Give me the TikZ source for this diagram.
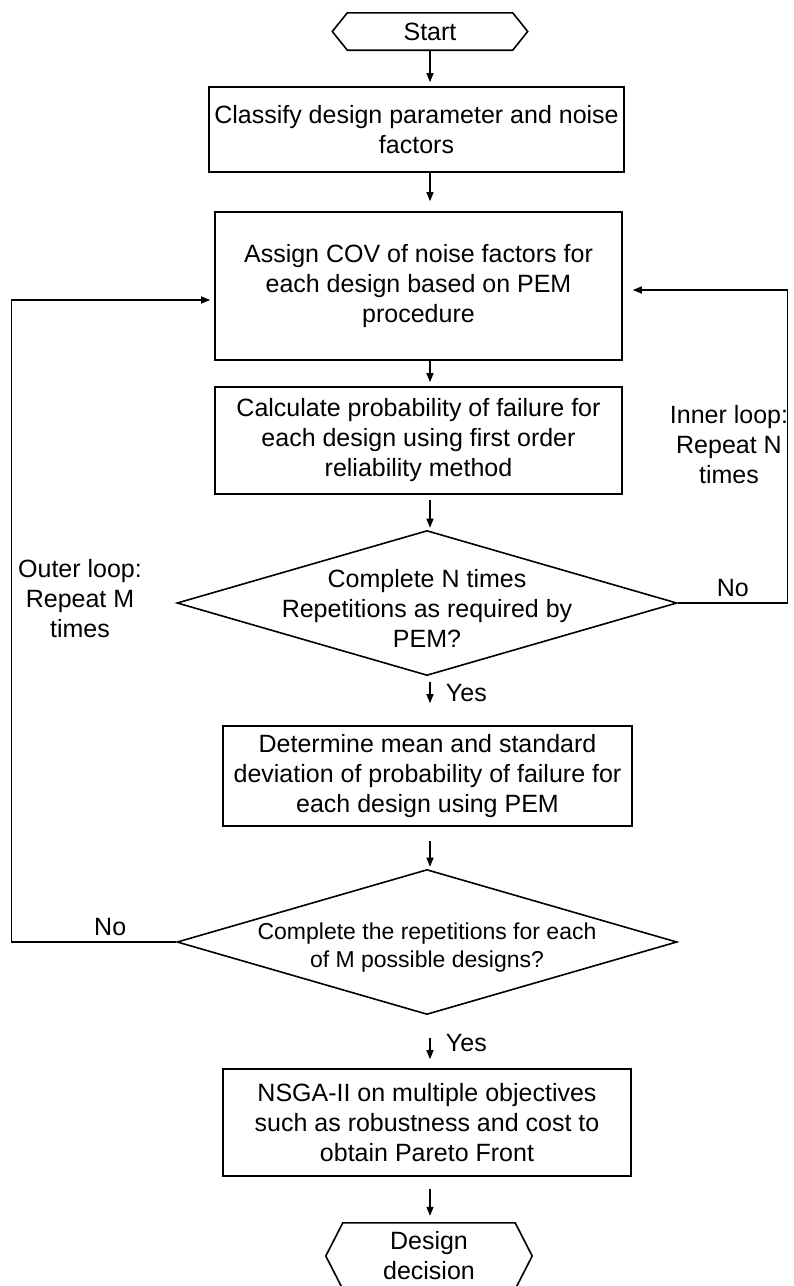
\documentclass[tikz,border=0pt]{standalone}
\usepackage{fontspec}
\setmainfont{Liberation Sans}
\usetikzlibrary{shapes.geometric,arrows.meta,calc}

\tikzset{
  process/.style={draw, line width=1.6pt, align=center, inner sep=0pt},
  decision/.style={diamond, draw, line width=1.6pt, inner sep=0pt,
    minimum width=500pt, minimum height=145pt},
  terminal/.style={align=center, inner sep=0pt},
  flow/.style={-{Triangle[length=9pt,width=7pt]}, line width=1.3pt, shorten >=4pt},
}

% hexagon outline round a terminal node
\newcommand{\hexframe}[2]{%
  \draw[line width=1.6pt] (#1.north west) -- (#1.north east) -- ($(#1.east)+(#2,0)$)
    -- (#1.south east) -- (#1.south west) -- ($(#1.west)+(-#2,0)$) -- cycle;}

\begin{document}
\begin{tikzpicture}[x=1pt,y=-1pt,font=\fontsize{25}{30}\selectfont]
  \useasboundingbox (0,0) rectangle (794,1286);

  % Terminals
  \node[terminal, minimum width=165pt, minimum height=37pt] (start) at (430,31.5) {Start};
  \node[terminal, minimum width=172pt, minimum height=66pt] (stop) at (429,1256) {Design\\decision};
  \hexframe{start}{15}
  \hexframe{stop}{17}

  % Process boxes
  \node[process, minimum width=415pt, minimum height=85pt] (classify) at (416.5,129.5)
    {Classify design parameter and noise\\factors};
  \node[process, minimum width=407pt, minimum height=148pt] (assign) at (418.5,286)
    {Assign COV of noise factors for\\each design based on PEM\\procedure};
  \node[process, minimum width=407pt, minimum height=107pt] (form) at (418.5,440.5)
    {Calculate probability of failure for\\each design using first order\\reliability method};
  \node[process, minimum width=409pt, minimum height=100pt] (stats) at (427.5,776)
    {Determine mean and standard\\deviation of probability of failure for\\each design using PEM};
  \node[process, minimum width=408pt, minimum height=107pt] (nsga) at (427,1122.5)
    {NSGA-II on multiple objectives\\such as robustness and cost to\\obtain Pareto Front};

  % Decisions
  \node[decision] (innerq) at (427,603) {};
  \node[align=center] (innerqtext) at ($(innerq)+(0,5)$) {Complete N times\\Repetitions as required by\\PEM?};
  \node[decision] (outerq) at (427,942) {};
  \node[align=center, font=\fontsize{23}{28}\selectfont] (outerqtext) at ($(outerq)+(0,6)$)
    {Complete the repetitions for each\\of M possible designs?};

  % Loop notes
  \node[align=center] (innernote) at (729,445) {Inner loop:\\Repeat N\\times};
  \node[align=center] (outernote) at (80,599) {Outer loop:\\Repeat M\\times};

  % Main flow
  \draw[flow] (start.south) -- (start.south |- classify.north);
  \draw[flow, shorten >=10pt] (classify.south -| start) -- (assign.north -| start);
  \draw[flow] (assign.south -| start) -- (form.north -| start);
  \draw[flow, shorten <=5pt, shorten >=2pt] (form.south -| start) -- (innerq.north -| start);
  \draw[flow, shorten <=6pt, shorten >=22pt] (innerq.south -| start) -- (stats.north -| start)
    node[pos=0.35, right=12pt] (yes1) {Yes};
  \draw[flow, shorten <=14pt, shorten >=2pt] (stats.south -| start) -- (outerq.north -| start);
  \draw[flow, shorten <=23pt, shorten >=9pt] (outerq.south -| start) -- (nsga.north -| start)
    node[pos=0.52, right=12pt] (yes2) {Yes};
  \draw[flow, shorten <=12pt, shorten >=7pt] (nsga.south -| start) -- (stop.north -| start);

  % Loops back to the COV box
  \draw[flow, shorten >=10pt] (innerq.east) -- ++(110,0) node[midway, above=2pt] (no1) {No}
    |- ($(assign.east)+(0,4)$);
  \draw[flow, shorten >=4pt] (outerq.west) -- ++(-165,0) node[pos=0.4, above=2pt] (no2) {No}
    |- ($(assign.west)+(0,14)$);

\end{tikzpicture}
\end{document}
